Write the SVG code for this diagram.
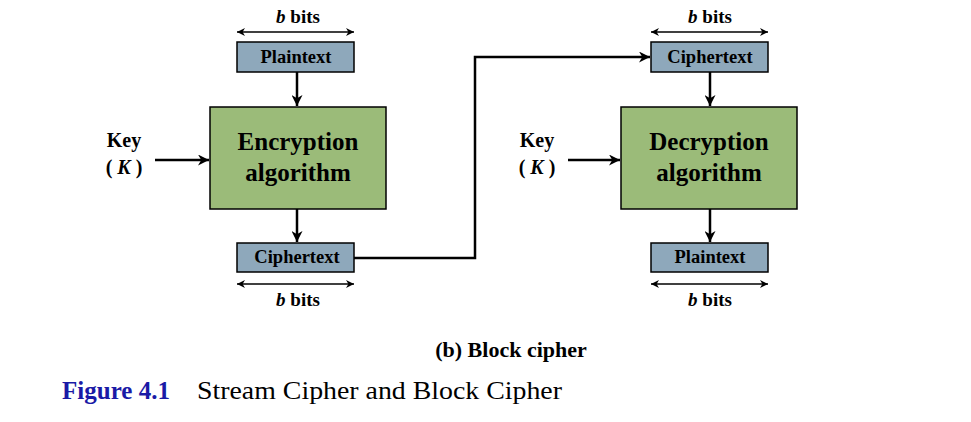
<svg xmlns="http://www.w3.org/2000/svg" width="971" height="422" viewBox="0 0 971 422">
<defs>
<marker id="ah" viewBox="0 0 10 10" refX="10" refY="5" markerWidth="14" markerHeight="11" markerUnits="userSpaceOnUse" orient="auto-start-reverse"><path d="M0,0 L10,5 L0,10 L3,5 Z" fill="#000"/></marker>
<marker id="ahs" viewBox="0 0 10 10" refX="10" refY="5" markerWidth="13" markerHeight="8" markerUnits="userSpaceOnUse" orient="auto-start-reverse"><path d="M0,0 L10,5 L0,10 L3,5 Z" fill="#000"/></marker>
<style>
.t{font-family:"Liberation Serif",serif;font-weight:bold;fill:#000}
.small{fill:#8ea8bb;stroke:#000;stroke-width:1.5}
.big{fill:#9bbb79;stroke:#000;stroke-width:1.5}
.c{stroke:#000;stroke-width:2.5;fill:none}
.w{stroke:#000;stroke-width:1.3;fill:none}
.lbl{font-size:18.5px}
.bits{font-size:19px}
.alg{font-size:25px}
.key{font-size:20px}
</style>
</defs>
<rect width="971" height="422" fill="#fff"/>
<g id="enc-in">
<rect class="small" x="237" y="42" width="117" height="30"/>
<text class="t lbl" x="296" y="63" text-anchor="middle">Plaintext</text>
</g>
<g id="enc-in-width">
<line class="w" x1="237" y1="32" x2="354" y2="32" marker-start="url(#ahs)" marker-end="url(#ahs)"/>
<text class="t bits" x="298" y="23" text-anchor="middle"><tspan font-style="italic">b</tspan> bits</text>
</g>
<g id="enc">
<rect class="big" x="210" y="107" width="176" height="102"/>
<text class="t alg" x="298" y="150" text-anchor="middle">Encryption</text>
<text class="t alg" x="298" y="181" text-anchor="middle">algorithm</text>
</g>
<g id="key1">
<text class="t key" x="124" y="147" text-anchor="middle">Key</text>
<text class="t key" x="124" y="174" text-anchor="middle">( <tspan font-style="italic">K</tspan> )</text>
</g>
<g id="enc-out">
<rect class="small" x="237" y="243" width="117" height="29"/>
<text class="t lbl" x="297" y="263" text-anchor="middle">Ciphertext</text>
</g>
<g id="enc-out-width">
<line class="w" x1="237" y1="284" x2="354" y2="284" marker-start="url(#ahs)" marker-end="url(#ahs)"/>
<text class="t bits" x="298" y="306" text-anchor="middle"><tspan font-style="italic">b</tspan> bits</text>
</g>
<g id="dec-in">
<rect class="small" x="651" y="42" width="117" height="30"/>
<text class="t lbl" x="710" y="63" text-anchor="middle">Ciphertext</text>
</g>
<g id="dec-in-width">
<line class="w" x1="651" y1="32" x2="768" y2="32" marker-start="url(#ahs)" marker-end="url(#ahs)"/>
<text class="t bits" x="710" y="23" text-anchor="middle"><tspan font-style="italic">b</tspan> bits</text>
</g>
<g id="dec">
<rect class="big" x="621" y="107" width="176" height="102"/>
<text class="t alg" x="709" y="150" text-anchor="middle">Decryption</text>
<text class="t alg" x="709" y="181" text-anchor="middle">algorithm</text>
</g>
<g id="key2">
<text class="t key" x="537" y="147" text-anchor="middle">Key</text>
<text class="t key" x="537" y="174" text-anchor="middle">( <tspan font-style="italic">K</tspan> )</text>
</g>
<g id="dec-out">
<rect class="small" x="651" y="243" width="117" height="29"/>
<text class="t lbl" x="710" y="263" text-anchor="middle">Plaintext</text>
</g>
<g id="dec-out-width">
<line class="w" x1="651" y1="284" x2="768" y2="284" marker-start="url(#ahs)" marker-end="url(#ahs)"/>
<text class="t bits" x="710" y="306" text-anchor="middle"><tspan font-style="italic">b</tspan> bits</text>
</g>
<g id="connectors">
<line class="c" x1="297" y1="72" x2="297" y2="106" marker-end="url(#ah)"/>
<line class="c" x1="155" y1="160" x2="209" y2="160" marker-end="url(#ah)"/>
<line class="c" x1="297" y1="209" x2="297" y2="242" marker-end="url(#ah)"/>
<polyline class="c" points="354,258 475,258 475,57 650,57" marker-end="url(#ah)"/>
<line class="c" x1="710" y1="72" x2="710" y2="106" marker-end="url(#ah)"/>
<line class="c" x1="568" y1="160" x2="620" y2="160" marker-end="url(#ah)"/>
<line class="c" x1="710" y1="209" x2="710" y2="242" marker-end="url(#ah)"/>
</g>
<text class="t" x="511" y="357" font-size="22" text-anchor="middle">(b) Block cipher</text>
<text x="62" y="399" font-family="'Liberation Serif',serif" font-size="25" font-weight="bold" fill="#1a1aa6" textLength="108" lengthAdjust="spacingAndGlyphs">Figure 4.1</text>
<text x="197" y="399" font-family="'Liberation Serif',serif" font-size="25" fill="#000" textLength="365" lengthAdjust="spacingAndGlyphs">Stream Cipher and Block Cipher</text>
</svg>
